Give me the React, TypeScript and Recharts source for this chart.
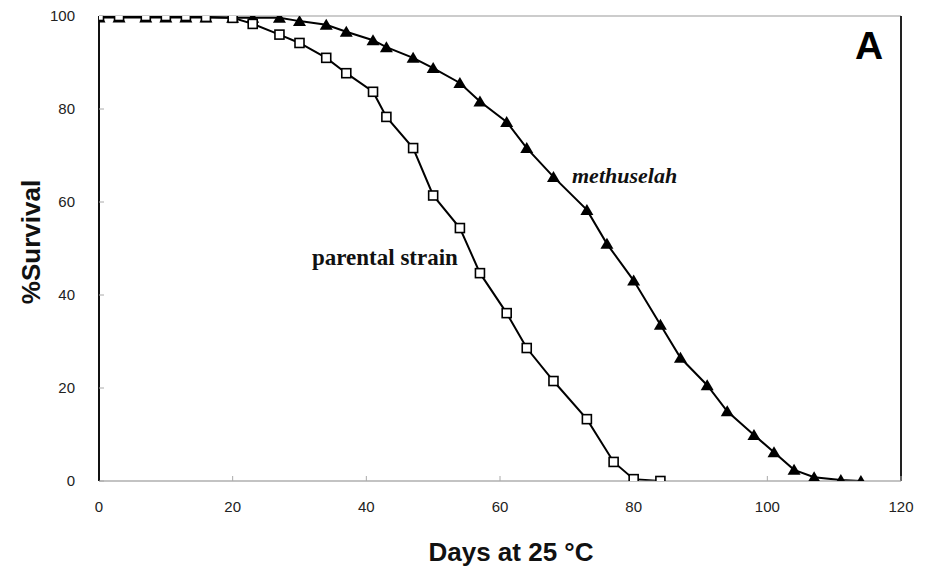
import { LineChart, Line, XAxis, YAxis, ReferenceLine } from "recharts";

// parental strain (open squares)
const parentalDays = [0, 3, 7, 10, 13, 16, 20, 23, 27, 30, 34, 37, 41, 43, 47, 50, 54, 57, 61, 64, 68, 73, 77, 80, 84];
const parentalSurvival = [100, 100, 100, 100, 100, 99.8, 99.6, 98.3, 96, 94.2, 91, 87.7, 83.7, 78.3, 71.6, 61.4, 54.4, 44.7, 36.1, 28.6, 21.5, 13.3, 4.1, 0.4, 0];

// methuselah (filled triangles)
const methDays = [0, 3, 7, 10, 13, 16, 20, 23, 27, 30, 34, 37, 41, 43, 47, 50, 54, 57, 61, 64, 68, 73, 76, 80, 84, 87, 91, 94, 98, 101, 104, 107, 111, 114];
const methSurvival = [99.7, 99.7, 99.7, 99.7, 99.7, 99.7, 99.6, 99.6, 99.6, 98.9, 98.1, 96.6, 94.8, 93.3, 91, 88.8, 85.6, 81.6, 77.2, 71.6, 65.4, 58.3, 51, 43.1, 33.6, 26.5, 20.6, 15, 9.9, 6.2, 2.4, 0.8, 0.2, 0];

const xTicks = [0, 20, 40, 60, 80, 100, 120];
const yTicks = [0, 20, 40, 60, 80, 100];

const parental = parentalDays.map((d, i) => ({ day: d, v: parentalSurvival[i] }));
const meth = methDays.map((d, i) => ({ day: d, v: methSurvival[i] }));

const tickStyle = { fontFamily: "Liberation Sans, Arial, sans-serif", fontSize: 15, fill: "#222" };

const Square = (p: any) => (
  <rect
    key={`s${p.index}`}
    x={p.cx - 4.5}
    y={p.cy - 4.5}
    width={9}
    height={9}
    fill="#fff"
    stroke="#000"
    strokeWidth={1.6}
  />
);

const Triangle = (p: any) => (
  <path
    key={`t${p.index}`}
    d={`M${p.cx},${p.cy - 6} L${p.cx + 6.5},${p.cy + 5} L${p.cx - 6.5},${p.cy + 5} Z`}
    fill="#000"
  />
);

export default function App() {
  return (
    <div style={{ position: "absolute", left: 0, top: 0, width: 933, height: 569, background: "#fff" }}>
      <LineChart width={933} height={569} margin={{ top: 16, right: 32, bottom: 0, left: 0 }}>
        <XAxis
          type="number"
          dataKey="day"
          domain={[0, 120]}
          ticks={xTicks}
          height={88}
          tickSize={-5}
          tickMargin={25}
          tick={tickStyle}
          stroke="#888"
          axisLine={{ stroke: "#888", strokeWidth: 1.2 }}
          tickLine={{ stroke: "#aaa" }}
          allowDataOverflow
        />
        <YAxis
          type="number"
          domain={[0, 100]}
          ticks={yTicks}
          width={99}
          tickSize={-5}
          tickMargin={29}
          tick={tickStyle}
          axisLine={{ stroke: "#111", strokeWidth: 2 }}
          tickLine={{ stroke: "#aaa" }}
          allowDataOverflow
        />
        <ReferenceLine y={100} stroke="#999" strokeWidth={1} />
        <ReferenceLine x={120} stroke="#222" strokeWidth={2} />
        <Line
          data={meth}
          dataKey="v"
          stroke="#000"
          strokeWidth={2}
          dot={Triangle}
          activeDot={false}
          isAnimationActive={false}
        />
        <Line
          data={parental}
          dataKey="v"
          stroke="#000"
          strokeWidth={2}
          dot={Square}
          activeDot={false}
          isAnimationActive={false}
        />
      </LineChart>

      <div
        style={{
          position: "absolute",
          left: 312,
          top: 245,
          fontFamily: "Liberation Serif, Times New Roman, serif",
          fontWeight: "bold",
          fontSize: 23,
          whiteSpace: "nowrap",
          color: "#111",
        }}
      >
        parental strain
      </div>
      <div
        style={{
          position: "absolute",
          left: 572,
          top: 163,
          fontFamily: "Liberation Serif, Times New Roman, serif",
          fontWeight: "bold",
          fontStyle: "italic",
          fontSize: 22,
          whiteSpace: "nowrap",
          color: "#111",
        }}
      >
        methuselah
      </div>
      <div
        style={{
          position: "absolute",
          left: 855,
          top: 24,
          fontFamily: "Liberation Sans, Arial, sans-serif",
          fontWeight: "bold",
          fontSize: 39,
          color: "#000",
        }}
      >
        A
      </div>
      <div
        style={{
          position: "absolute",
          left: 511,
          top: 552,
          transform: "translate(-50%, -50%)",
          fontFamily: "Liberation Sans, Arial, sans-serif",
          fontWeight: "bold",
          fontSize: 26,
          whiteSpace: "nowrap",
          color: "#111",
        }}
      >
        Days at 25 °C
      </div>
      <div
        style={{
          position: "absolute",
          left: 31,
          top: 242,
          transform: "translate(-50%, -50%) rotate(-90deg)",
          fontFamily: "Liberation Sans, Arial, sans-serif",
          fontWeight: "bold",
          fontSize: 26,
          whiteSpace: "nowrap",
          color: "#111",
        }}
      >
        %Survival
      </div>
    </div>
  );
}
